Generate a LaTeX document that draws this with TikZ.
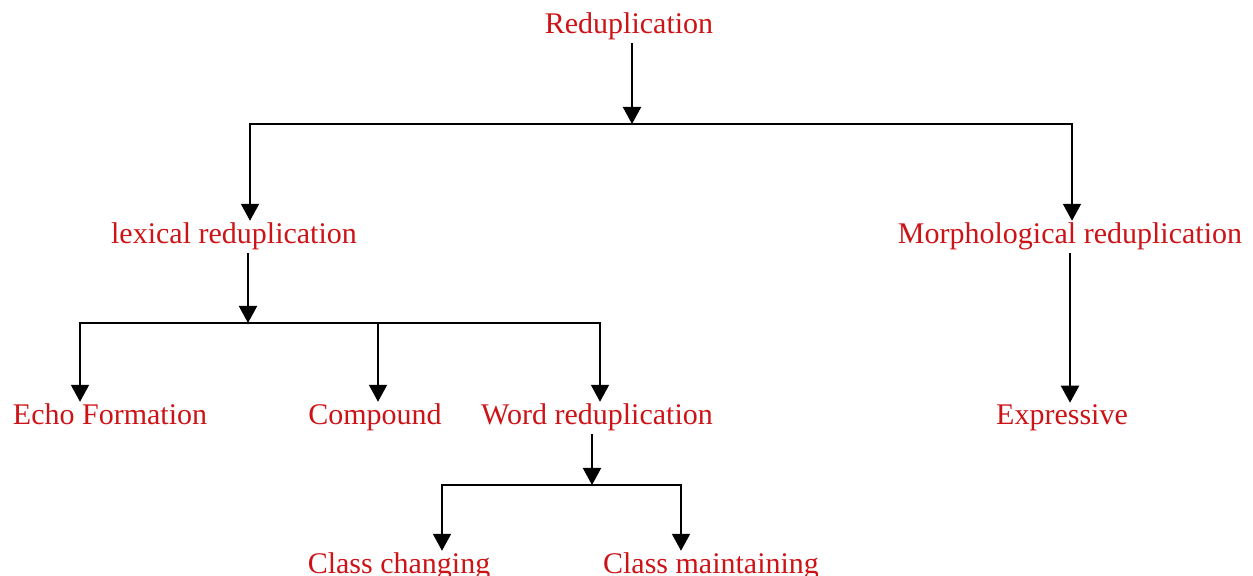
\documentclass[tikz,border=0pt]{standalone}
\usepackage{fontspec}
\setmainfont{Liberation Serif}
\usetikzlibrary{arrows.meta}
\definecolor{termred}{RGB}{204,20,24}

\begin{document}
\begin{tikzpicture}[x=0.5pt,y=-0.5pt,
				term/.style={anchor=base, inner xsep=0pt, inner ysep=1pt, text=termred, font=\fontsize{15}{18}\selectfont},
				link/.style={-{Triangle[width=9pt,length=8.5pt]}, line width=1pt}]
				\useasboundingbox (0,0) rectangle (1253,576);
				
				\node [term] (redup) at (629,34) {Reduplication};
				\node [term] (lex) at (234,244) {lexical reduplication};
				\node [term] (morph) at (1070,244) {Morphological reduplication};
				\node [term] (echo) at (110,425) {Echo Formation};
				\node [term] (comp) at (375,425) {Compound};
				\node [term] (word) at (597,425) {Word reduplication};
				\node [term] (expr) at (1062,425) {Expressive};
				\node [term] (chg) at (399,574) {Class changing};
				\node [term] (mnt) at (711,574) {Class maintaining};
				
				\coordinate (b1) at (632,124);
				\coordinate (b1l) at (250,124);
				\coordinate (b1r) at (1072,124);
				\coordinate (b2) at (248,323);
				\coordinate (b2l) at (80,323);
				\coordinate (b2m) at (378,323);
				\coordinate (b2r) at (600,323);
				\coordinate (b3) at (592,485);
				\coordinate (b3l) at (442,485);
				\coordinate (b3r) at (681,485);
				
				\begin{scope}[link]
				\draw (redup.south -| b1) -- (b1);
				\draw (b1) -| (b1l |- lex.north);
				\draw (b1) -| (b1r |- morph.north);
				\draw (lex.south -| b2) -- (b2);
				\draw (b2) -| (b2l |- echo.north);
				\draw (b2) -| (b2r |- word.north);
				\draw (b2m) -- (b2m |- comp.north);
				\draw (morph.south) -- (morph.south |- expr.north);
				\draw (word.south -| b3) -- (b3);
				\draw (b3) -| (b3l |- chg.north);
				\draw (b3) -| (b3r |- mnt.north);
				\end{scope}
				\end{tikzpicture}
\end{document}
